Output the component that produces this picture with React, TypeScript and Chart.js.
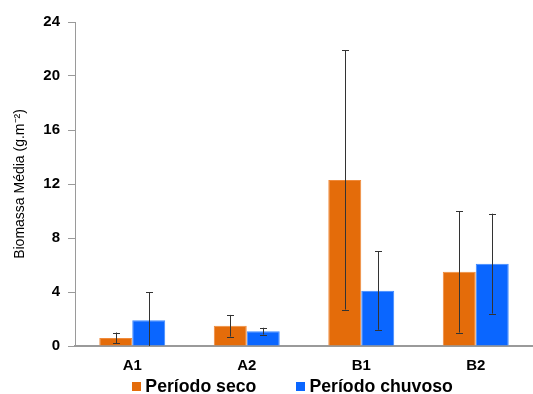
import React, { useEffect, useRef } from "react";
import { Chart, registerables } from "chart.js";

Chart.register(...registerables);

const categories = ["A1", "A2", "B1", "B2"];
const secoValues = [0.6, 1.5, 12.3, 5.5];
const secoErrors = [0.4, 0.8, 9.6, 4.5];
const chuvosoValues = [1.9, 1.1, 4.1, 6.1];
const chuvosoErrors = [2.1, 0.25, 2.9, 3.7];
const seriesNames = ["Período seco", "Período chuvoso"];
const yTicks = [0, 4, 8, 12, 16, 20, 24];

const FONT = "Liberation Sans, Arial, sans-serif";

const errorBarPlugin = {
  id: "errorBars",
  afterDatasetsDraw(chart: any) {
    const ctx = chart.ctx;
    const y = chart.scales.y;
    ctx.save();
    ctx.strokeStyle = "#333333";
    ctx.lineWidth = 1;
    chart.data.datasets.forEach((ds: any, di: number) => {
      const meta = chart.getDatasetMeta(di);
      meta.data.forEach((bar: any, i: number) => {
        const v = ds.data[i];
        const e = ds.errors[i];
        const top = y.getPixelForValue(v + e);
        const bot = y.getPixelForValue(Math.max(0, v - e));
        const x = Math.round(bar.x) + 0.5;
        ctx.beginPath();
        ctx.moveTo(x, top);
        ctx.lineTo(x, bot);
        ctx.moveTo(x - 3.5, Math.round(top) + 0.5);
        ctx.lineTo(x + 3.5, Math.round(top) + 0.5);
        if (v - e > 0) {
          ctx.moveTo(x - 3.5, Math.round(bot) + 0.5);
          ctx.lineTo(x + 3.5, Math.round(bot) + 0.5);
        }
        ctx.stroke();
      });
    });
    ctx.restore();
  },
};

const legendPlugin = {
  id: "customLegend",
  afterDraw(chart: any) {
    const ctx = chart.ctx;
    ctx.save();
    ctx.font = `bold 17.7px ${FONT}`;
    ctx.textBaseline = "middle";
    ctx.textAlign = "left";
    const box = 9;
    const gapText = 4;
    const gapItem = 40;
    const items = chart.data.datasets.map((ds: any) => ({
      label: ds.label,
      color: ds.backgroundColor,
      w: ctx.measureText(ds.label).width,
    }));
    const total =
      items.reduce((s: number, it: any) => s + box + gapText + it.w, 0) +
      gapItem * (items.length - 1);
    const center = chart.width * 0.549;
    let x = center - total / 2;
    const cy = 386.5;
    items.forEach((it: any) => {
      ctx.fillStyle = it.color;
      ctx.fillRect(Math.round(x), cy - 4.5, box, box);
      ctx.fillStyle = "#000";
      ctx.fillText(it.label, x + box + gapText, cy + 0.5);
      x += box + gapText + it.w + gapItem;
    });
    ctx.restore();
  },
};

export default function App() {
  const ref = useRef<HTMLCanvasElement | null>(null);
  useEffect(() => {
    document.body.style.margin = "0";
    const chart = new Chart(ref.current as HTMLCanvasElement, {
      type: "bar",
      data: {
        labels: categories,
        datasets: [
          {
            label: seriesNames[0],
            data: secoValues,
            errors: secoErrors,
            backgroundColor: "#E46C0A",
            borderColor: "#F08A3A",
            borderWidth: 1,
          } as any,
          {
            label: seriesNames[1],
            data: chuvosoValues,
            errors: chuvosoErrors,
            backgroundColor: "#0A66FF",
            borderColor: "#3D88FF",
            borderWidth: 1,
          } as any,
        ],
      },
      options: {
        animation: false,
        responsive: false,
        layout: { padding: { top: 22, right: 0, left: 0, bottom: 22 } },
        plugins: {
          tooltip: { enabled: false },
          legend: { display: false },
        },
        datasets: {
          bar: { categoryPercentage: 0.576, barPercentage: 1 },
        },
        scales: {
          x: {
            grid: { display: false },
            border: { color: "#9a9a9a", width: 2 },
            ticks: {
              color: "#000",
              padding: 3,
              font: { family: FONT, size: 15, weight: "bold" },
            },
            afterFit: (s: any) => {
              s.height = 26;
            },
          },
          y: {
            min: 0,
            max: 24,
            afterBuildTicks: (s: any) => {
              s.ticks = yTicks.map((v) => ({ value: v }));
            },
            grid: {
              display: true,
              drawOnChartArea: false,
              drawTicks: true,
              tickLength: 7,
              color: "#9a9a9a",
            },
            border: { color: "#9a9a9a", width: 1 },
            ticks: {
              color: "#000",
              padding: 8,
              font: { family: FONT, size: 15, weight: "bold" },
            },
            title: {
              display: true,
              text: "Biomassa Média (g.m⁻²)",
              color: "#000",
              padding: { top: 12, bottom: 0 },
              font: { family: FONT, size: 14 },
            },
            afterFit: (s: any) => {
              s.width = 75;
            },
          },
        },
      } as any,
      plugins: [errorBarPlugin, legendPlugin],
    });
    return () => chart.destroy();
  }, []);
  return (
    <div style={{ position: "absolute", left: 0, top: 0, width: 533, height: 394 }}>
      <canvas ref={ref} width={533} height={394} />
    </div>
  );
}
